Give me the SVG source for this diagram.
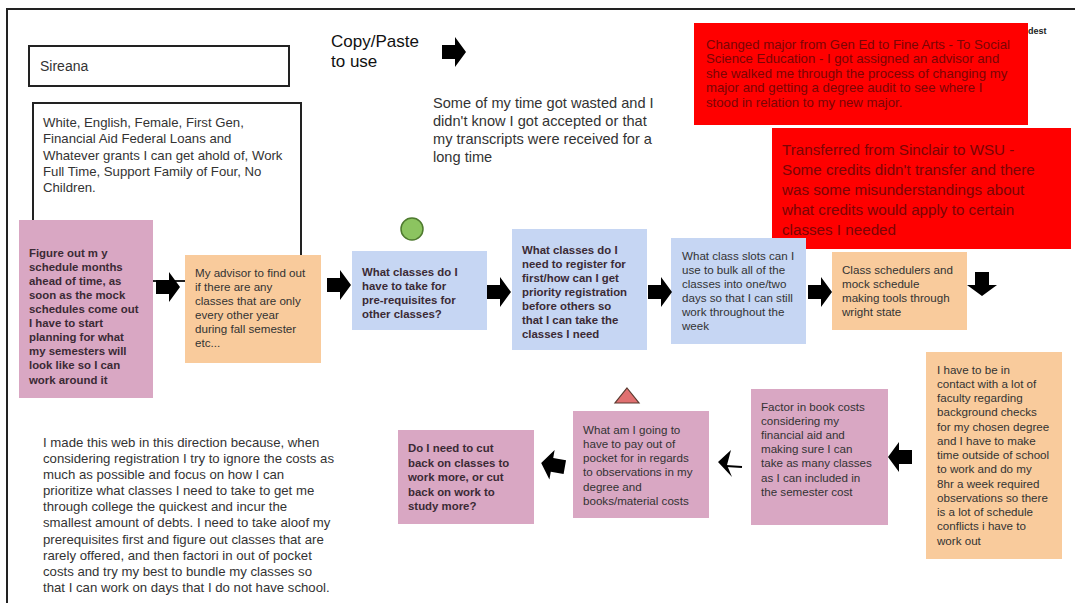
<svg xmlns="http://www.w3.org/2000/svg" width="1075" height="603" viewBox="0 0 1075 603">
<style>
.t{font-family:"Liberation Sans",Arial,sans-serif;fill:#333}
.b{font-family:"Liberation Sans",Arial,sans-serif;font-weight:bold;fill:#3b2a35}
.r{font-family:"Liberation Sans",Arial,sans-serif;fill:#7a0505}
.pink{fill:#d9a7c3}
.orange{fill:#f9cb9c}
.blue{fill:#c6d6f3}
.red{fill:#ff0000}
.frame{fill:none;stroke:#222;stroke-width:2}
</style>
<defs>
<path id="arr" d="M-12,-7 H1 V-15 L12,0 L1,15 V7 H-12 Z" fill="#000"/>
</defs>
<rect width="1075" height="603" fill="#fff"/>
<path d="M7,603 V9 H1075" fill="none" stroke="#222" stroke-width="2"/>

<g id="name">
<rect x="29" y="46" width="260" height="40" class="frame"/>
<text class="t" x="40" y="71" font-size="14">Sireana</text>
</g>
<g id="identity">
<rect x="33" y="103" width="268" height="178" class="frame"/>
<text class="t" font-size="13.2"><tspan x="43" y="127">White, English, Female, First Gen,</tspan><tspan x="43" y="143">Financial Aid Federal Loans and</tspan><tspan x="43" y="160">Whatever grants I can get ahold of, Work</tspan><tspan x="43" y="176">Full Time, Support Family of Four, No</tspan><tspan x="43" y="192">Children.</tspan></text>
</g>
<g id="copypaste">
<text class="t" font-size="17"><tspan x="331" y="47" style="fill:#111">Copy/Paste</tspan><tspan x="331" y="67" style="fill:#111">to use</tspan></text>
</g>
<g id="wasted">
<text class="t" font-size="14.6"><tspan x="433" y="108">Some of my time got wasted and I</tspan><tspan x="433" y="126">didn't know I got accepted or that</tspan><tspan x="433" y="144">my transcripts were received for a</tspan><tspan x="433" y="162">long time</tspan></text>
</g>
<g id="dest">
<text class="b" x="1028" y="34" font-size="9" style="fill:#222">dest</text>
</g>
<g id="changed-major">
<rect x="694" y="23" width="334" height="102" class="red"/>
<text class="r" font-size="13.2"><tspan x="706" y="49">Changed major from Gen Ed to Fine Arts - To Social</tspan><tspan x="706" y="63">Science Education - I got assigned an advisor and</tspan><tspan x="706" y="78">she walked me through the process of changing my</tspan><tspan x="706" y="92">major and getting a degree audit to see where I</tspan><tspan x="706" y="107">stood in relation to my new major.</tspan></text>
</g>
<g id="transferred">
<rect x="772" y="128" width="299" height="121" class="red"/>
<text class="r" font-size="15.2"><tspan x="782" y="155">Transferred from Sinclair to WSU -</tspan><tspan x="782" y="175">Some credits didn't transfer and there</tspan><tspan x="782" y="195">was some misunderstandings about</tspan><tspan x="782" y="215">what credits would apply to certain</tspan><tspan x="782" y="235">classes I needed</tspan></text>
</g>
<g id="figure-out">
<rect x="19" y="220" width="134" height="178" class="pink"/>
<text class="b" font-size="11.4"><tspan x="29" y="257">Figure out m y</tspan><tspan x="29" y="271">schedule months</tspan><tspan x="29" y="285">ahead of time, as</tspan><tspan x="29" y="299">soon as the mock</tspan><tspan x="29" y="313">schedules come out</tspan><tspan x="29" y="327">I have to start</tspan><tspan x="29" y="341">planning for what</tspan><tspan x="29" y="355">my semesters will</tspan><tspan x="29" y="369">look like so I can</tspan><tspan x="29" y="384">work around it</tspan></text>
</g>
<g id="advisor">
<rect x="185" y="255" width="136" height="108" class="orange"/>
<text class="t" font-size="11.6"><tspan x="195" y="277">My advisor to find out</tspan><tspan x="195" y="291">if there are any</tspan><tspan x="195" y="305">classes that are only</tspan><tspan x="195" y="319">every other year</tspan><tspan x="195" y="333">during fall semester</tspan><tspan x="195" y="347">etc...</tspan></text>
</g>
<g id="green-circle">
<circle cx="412" cy="229" r="11" fill="#8cc460" stroke="#4e7a2e" stroke-width="1.5"/>
</g>
<g id="prereqs">
<rect x="352" y="251" width="135" height="79" class="blue"/>
<text class="b" font-size="11.4"><tspan x="362" y="276">What classes do I</tspan><tspan x="362" y="290">have to take for</tspan><tspan x="362" y="304">pre-requisites for</tspan><tspan x="362" y="318">other classes?</tspan></text>
</g>
<g id="register-first">
<rect x="512" y="229" width="135" height="121" class="blue"/>
<text class="b" font-size="11.4"><tspan x="522" y="254">What classes do I</tspan><tspan x="522" y="268">need to register for</tspan><tspan x="522" y="282">first/how can I get</tspan><tspan x="522" y="296">priority registration</tspan><tspan x="522" y="310">before others so</tspan><tspan x="522" y="324">that I can take the</tspan><tspan x="522" y="338">classes I need</tspan></text>
</g>
<g id="class-slots">
<rect x="671" y="238" width="135" height="106" class="blue"/>
<text class="t" font-size="11.6"><tspan x="682" y="260">What class slots can I</tspan><tspan x="682" y="274">use to bulk all of the</tspan><tspan x="682" y="288">classes into one/two</tspan><tspan x="682" y="302">days so that I can still</tspan><tspan x="682" y="316">work throughout the</tspan><tspan x="682" y="330">week</tspan></text>
</g>
<g id="schedulers">
<rect x="832" y="252" width="135" height="78" class="orange"/>
<text class="t" font-size="11.6"><tspan x="842" y="274">Class schedulers and</tspan><tspan x="842" y="288">mock schedule</tspan><tspan x="842" y="302">making tools through</tspan><tspan x="842" y="316">wright state</tspan></text>
</g>
<g id="faculty-contact">
<rect x="926" y="352" width="136" height="207" class="orange"/>
<text class="t" font-size="11.6"><tspan x="937" y="374">I have to be in</tspan><tspan x="937" y="388">contact with a lot of</tspan><tspan x="937" y="402">faculty regarding</tspan><tspan x="937" y="416">background checks</tspan><tspan x="937" y="431">for my chosen degree</tspan><tspan x="937" y="445">and I have to make</tspan><tspan x="937" y="459">time outside of school</tspan><tspan x="937" y="473">to work and do my</tspan><tspan x="937" y="488">8hr a week required</tspan><tspan x="937" y="502">observations so there</tspan><tspan x="937" y="516">is a lot of schedule</tspan><tspan x="937" y="530">conflicts i have to</tspan><tspan x="937" y="545">work out</tspan></text>
</g>
<g id="book-costs">
<rect x="751" y="389" width="137" height="136" class="pink"/>
<text class="t" font-size="11.6"><tspan x="761" y="411">Factor in book costs</tspan><tspan x="761" y="425">considering my</tspan><tspan x="761" y="439">financial aid and</tspan><tspan x="761" y="453">making sure I can</tspan><tspan x="761" y="467">take as many classes</tspan><tspan x="761" y="482">as I can included in</tspan><tspan x="761" y="496">the semester cost</tspan></text>
</g>
<g id="red-triangle">
<polygon points="627,388 639,403 615,403" fill="#e07070" stroke="#5a3a30" stroke-width="1.2"/>
</g>
<g id="out-of-pocket">
<rect x="573" y="411" width="136" height="107" class="pink"/>
<text class="t" font-size="11.6"><tspan x="583" y="434">What am I going to</tspan><tspan x="583" y="448">have to pay out of</tspan><tspan x="583" y="462">pocket for in regards</tspan><tspan x="583" y="476">to observations in my</tspan><tspan x="583" y="491">degree and</tspan><tspan x="583" y="505">books/material costs</tspan></text>
</g>
<g id="cut-back">
<rect x="398" y="430" width="136" height="94" class="pink"/>
<text class="b" font-size="11.4"><tspan x="408" y="452">Do I need to cut</tspan><tspan x="408" y="467">back on classes to</tspan><tspan x="408" y="481">work more, or cut</tspan><tspan x="408" y="496">back on work to</tspan><tspan x="408" y="510">study more?</tspan></text>
</g>
<g id="explanation">
<text class="t" font-size="13.2"><tspan x="43" y="447">I made this web in this direction because, when</tspan><tspan x="43" y="463">considering registration I try to ignore the costs as</tspan><tspan x="43" y="479">much as possible and focus on how I can</tspan><tspan x="43" y="495">prioritize what classes I need to take to get me</tspan><tspan x="43" y="511">through college the quickest and incur the</tspan><tspan x="43" y="527">smallest amount of debts. I need to take aloof my</tspan><tspan x="43" y="544">prerequisites first and figure out classes that are</tspan><tspan x="43" y="560">rarely offered, and then factori in out of pocket</tspan><tspan x="43" y="576">costs and try my best to bundle my classes so</tspan><tspan x="43" y="592">that I can work on days that I do not have school.</tspan></text>
</g>

<g id="connectors">
<use href="#arr" transform="translate(454,52)"/>
<line x1="153" y1="281" x2="185" y2="281" stroke="#222" stroke-width="1.5"/>
<use href="#arr" transform="translate(168,287)"/>
<use href="#arr" transform="translate(339,285)"/>
<use href="#arr" transform="translate(499,292)"/>
<use href="#arr" transform="translate(660,292)"/>
<use href="#arr" transform="translate(820,292)"/>
<use href="#arr" transform="translate(982,284) rotate(90)"/>
<use href="#arr" transform="translate(900,457) rotate(180)"/>
<path d="M718,462 L731,450 L727,465 L732,477 Z" fill="#000"/>
<line x1="726" y1="466" x2="742" y2="467" stroke="#000" stroke-width="2"/>
<use href="#arr" transform="translate(553,465) rotate(190)"/>
</g>
</svg>
